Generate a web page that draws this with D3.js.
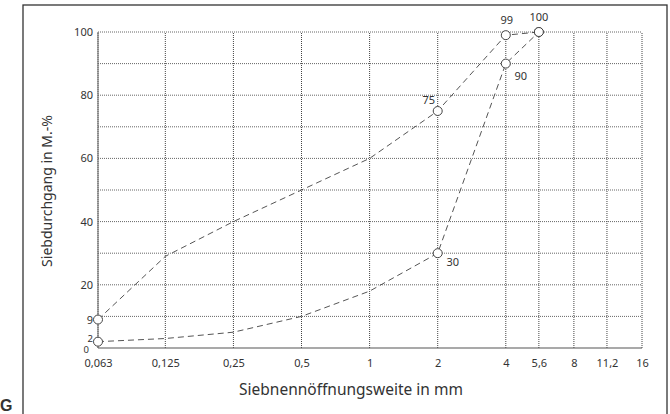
<!DOCTYPE html>
<html>
<head>
<meta charset="UTF-8">
<script src="https://cdn.jsdelivr.net/npm/d3@7"></script>
<style>
  *{margin:0;padding:0;}
  body{background:#fff;}
  text{font-family:"Noto Sans","Open Sans",sans-serif;fill:#333;}
</style>
</head>
<body>
<div id="chart"></div>
<script>
// Siebweiten (mm) und Beschriftungen
var sieve = [0.063, 0.125, 0.25, 0.5, 1, 2, 4, 5.6, 8, 11.2, 16];
var sieveLabels = ["0,063", "0,125", "0,25", "0,5", "1", "2", "4", "5,6", "8", "11,2", "16"];
// Kurven
var curveSizes = [0.063, 0.125, 0.25, 0.5, 1, 2, 4, 5.6];
var upperPass = [9, 29, 40, 50, 60, 75, 99, 100];
var lowerPass = [2, 3, 5, 10, 18, 30, 90, 100];
var markIdx = [0, 5, 6, 7];
var yTicks = [0, 2, 9, 20, 40, 60, 80, 100];
var yGrid = [10, 20, 30, 40, 50, 60, 70, 80, 90, 100];

var W = 670, H = 414;
var svg = d3.select("#chart").append("svg").attr("width", W).attr("height", H);

// Rahmen
svg.append("rect").attr("x", 23).attr("y", 5).attr("width", 644).attr("height", 420)
   .attr("fill", "none").attr("stroke", "#333").attr("stroke-width", 1.3);
svg.append("text").attr("x", 0).attr("y", 411).style("font-weight", "bold")
   .style("font-size", "16px").style("font-family", "'Liberation Sans',sans-serif").attr("fill", "#222").text("G");

var x = d3.scaleLog().base(2).domain([0.063, 16]).range([98, 642]);
var y = d3.scaleLinear().domain([0, 100]).range([348, 32]);

var g = svg.append("g");
// Gitter
g.selectAll(".hg").data(yGrid).enter().append("line")
  .attr("x1", x(0.063)).attr("x2", x(16)).attr("y1", d => y(d)).attr("y2", d => y(d))
  .attr("stroke", "#666").attr("stroke-width", 1).attr("stroke-dasharray", "1,1");
g.selectAll(".vg").data(sieve).enter().append("line")
  .attr("x1", d => x(d)).attr("x2", d => x(d)).attr("y1", y(0)).attr("y2", y(100))
  .attr("stroke", "#444").attr("stroke-width", 1).attr("stroke-dasharray", "1,1");
g.append("line").attr("x1", x(0.063)).attr("x2", x(16)).attr("y1", y(0)).attr("y2", y(0))
  .attr("stroke", "#555").attr("stroke-width", 1.2);
g.append("line").attr("x1", x(0.063)).attr("x2", x(0.063)).attr("y1", y(0)).attr("y2", y(100))
  .attr("stroke", "#777").attr("stroke-width", 1.2);

// Achsen
var xAxis = d3.axisBottom(x).tickValues(sieve).tickSize(0).tickPadding(11)
  .tickFormat((d, i) => sieveLabels[i]);
var gx = svg.append("g").attr("transform", "translate(0," + y(0) + ")").call(xAxis);
gx.select(".domain").remove();
gx.selectAll("text").style("font-size", "11px").attr("fill", "#333");

var yAxis = d3.axisLeft(y).tickValues(yTicks).tickSize(0).tickPadding(5);
var gy = svg.append("g").attr("transform", "translate(" + x(0.063) + ",0)").call(yAxis);
gy.select(".domain").remove();
gy.selectAll("text").style("font-size", "11px").attr("fill", "#333");
// 2 und 0 liegen dicht beieinander
gy.selectAll(".tick").filter(d => d === 0).select("text").attr("dy", "0.45em").attr("x", -9).style("font-size", "9.5px");
gy.selectAll(".tick").filter(d => d === 2).select("text").attr("dy", "0em").style("font-size", "9.5px");

// Achsentitel
svg.append("text").attr("x", 351).attr("y", 395).attr("text-anchor", "middle")
   .style("font-size", "15.5px").text("Siebnennöffnungsweite in mm");
svg.append("text").attr("transform", "translate(52,191) rotate(-90)").attr("text-anchor", "middle")
   .style("font-size", "14px").text("Siebdurchgang in M.-%");

// Kurven
var line = d3.line().x(d => x(d[0])).y(d => y(d[1]));
[upperPass, lowerPass].forEach(function (vals) {
  var pts = d3.zip(curveSizes, vals);
  svg.append("path").attr("d", line(pts)).attr("fill", "none")
     .attr("stroke", "#555").attr("stroke-width", 1).attr("stroke-dasharray", "6,4");
  svg.selectAll(null).data(markIdx.map(i => pts[i])).enter().append("circle")
     .attr("cx", d => x(d[0])).attr("cy", d => y(d[1])).attr("r", 4.5)
     .attr("fill", "#fff").attr("stroke", "#444").attr("stroke-width", 1);
});

// Wertebeschriftungen
var lbl = [
  [curveSizes[5], upperPass[5], -9, -7, "75"],
  [curveSizes[6], upperPass[6], 1, -11, "99"],
  [curveSizes[7], upperPass[7], 0, -11, "100"],
  [curveSizes[6], lowerPass[6], 15, 16, "90"],
  [curveSizes[5], lowerPass[5], 15, 13, "30"]
];
svg.selectAll(".vl").data(lbl).enter().append("text")
  .attr("x", d => x(d[0]) + d[2]).attr("y", d => y(d[1]) + d[3])
  .attr("text-anchor", "middle").style("font-size", "11px").text(d => d[4]);
</script>
</body>
</html>
